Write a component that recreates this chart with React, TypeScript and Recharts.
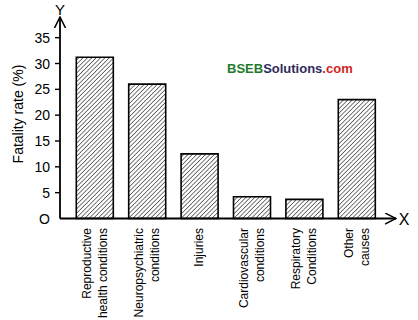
import { BarChart, Bar, XAxis, YAxis } from 'recharts'

const categories = [
  'Reproductive\nhealth conditions',
  'Neuropsychiatric\nconditions',
  'Injuries',
  'Cardiovascular\nconditions',
  'Respiratory\nConditions',
  'Other\ncauses',
]
const fatalityRates = [31.2, 26, 12.5, 4.2, 3.7, 23]
const yTicks = [0, 5, 10, 15, 20, 25, 30, 35]

const data = categories.map((name, i) => ({ name, value: fatalityRates[i] }))

const FONT = '"Liberation Sans", Arial, Helvetica, sans-serif'

function YTick(props: any) {
  const { x, y, payload } = props
  const v = payload.value
  return (
    <g>
      {v !== 0 && <line x1={x + 5} x2={x + 10} y1={y} y2={y} stroke="#000" strokeWidth={1.4} />}
      <text x={x} y={y} dy="0.36em" textAnchor="end" fontSize={14} fill="#000" fontFamily={FONT}>
        {v === 0 ? 'O' : v}
      </text>
    </g>
  )
}

function XTick(props: any) {
  const { x, y, payload } = props
  const lines = String(payload.value).split('\n')
  const top = y + 9.5
  const offsets = lines.length === 1 ? [4] : [-4, 12]
  return (
    <g>
      {lines.map((ln, i) => (
        <text
          key={i}
          x={x + offsets[i]}
          y={top}
          textAnchor="end"
          fontSize={12}
          fill="#000"
          fontFamily={FONT}
          transform={`rotate(-90, ${x + offsets[i]}, ${top})`}
        >
          {ln}
        </text>
      ))}
    </g>
  )
}

export default function App() {
  return (
    <div style={{ position: 'absolute', left: 0, top: 0, width: 418, height: 320, background: '#fff' }}>
      <BarChart
        width={418}
        height={320}
        data={data}
        margin={{ top: 17, right: 22, bottom: 0, left: 0 }}
        barCategoryGap={0}
      >
        <defs>
          <pattern id="hatch" patternUnits="userSpaceOnUse" width="3.1" height="3.1" patternTransform="rotate(45)">
            <line x1="0" y1="0" x2="0" y2="3.1" stroke="#000" strokeWidth="1.05" />
          </pattern>
          <marker
            id="arrow"
            viewBox="0 0 12 12"
            refX="11"
            refY="6"
            markerWidth="12"
            markerHeight="12"
            markerUnits="userSpaceOnUse"
            orient="auto-start-reverse"
          >
            <polyline points="0,0.5 11,6 0,11.5" fill="none" stroke="#000" strokeWidth="1.5" />
          </marker>
        </defs>
        <XAxis
          dataKey="name"
          interval={0}
          height={101.5}
          padding={{ left: 8.3, right: 13.3 }}
          axisLine={{ stroke: '#000', strokeWidth: 1.8, markerEnd: 'url(#arrow)' } as any}
          tickLine={false}
          tickSize={0}
          tickMargin={0}
          tick={<XTick />}
        />
        <YAxis
          width={60}
          domain={[0, 39]}
          ticks={yTicks}
          interval={0}
          axisLine={{ stroke: '#000', strokeWidth: 1.8, markerStart: 'url(#arrow)' } as any}
          tickLine={false}
          tickSize={5}
          tickMargin={5}
          tick={<YTick />}
        />
        <Bar dataKey="value" barSize={37} fill="url(#hatch)" stroke="#000" strokeWidth={1.6} isAnimationActive={false} />
        <text x={60} y={10} dy="0.36em" textAnchor="middle" fontSize={15} fill="#000" fontFamily={FONT}>
          Y
        </text>
        <text x={404} y={219} dy="0.36em" textAnchor="middle" fontSize={16} fill="#000" fontFamily={FONT}>
          X
        </text>
        <text
          x={23}
          y={114}
          textAnchor="middle"
          fontSize={14}
          fill="#000"
          fontFamily={FONT}
          transform="rotate(-90, 23, 114)"
        >
          Fatality rate (%)
        </text>
        <text x={227} y={68} dy="0.36em" fontSize={13} fontWeight="bold" fontFamily={FONT}>
          <tspan fill="#1f7a2e">BSEB</tspan>
          <tspan fill="#2e2b5c">Solutions</tspan>
          <tspan fill="#d11f1f">.com</tspan>
        </text>
      </BarChart>
    </div>
  )
}
